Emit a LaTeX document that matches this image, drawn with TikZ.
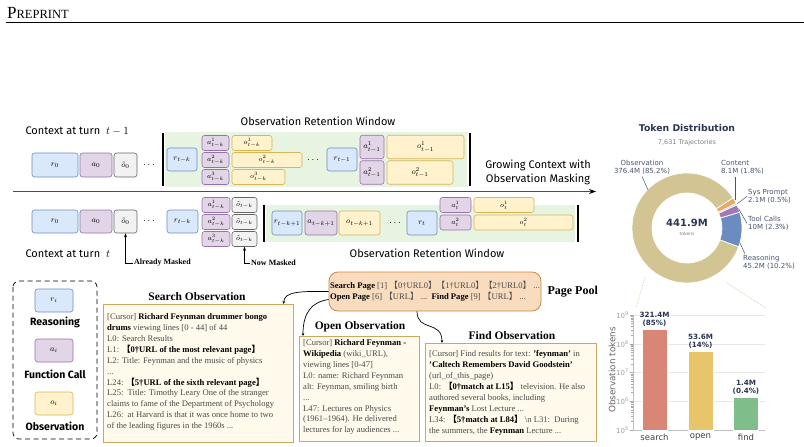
\documentclass[tikz,border=0pt]{standalone}
\usepackage{fontspec}
\setmainfont{Liberation Serif}
\newfontfamily\handfont{Fira Sans}
\newfontfamily\plotfont{DejaVu Sans}
\newfontfamily\cjkfont{Noto Sans CJK SC}
\usetikzlibrary{arrows.meta}

\definecolor{rfill}{HTML}{DAE8FC}\definecolor{rline}{HTML}{6C8EBF}
\definecolor{afill}{HTML}{E1D5E7}\definecolor{aline}{HTML}{9673A6}
\definecolor{ofill}{HTML}{FFF2CC}\definecolor{oline}{HTML}{D6B656}
\definecolor{mfill}{HTML}{F2F2F2}\definecolor{mline}{HTML}{666666}
\definecolor{winfill}{HTML}{E7F4E1}
\definecolor{obsfill}{HTML}{FFFAEC}\definecolor{obsline}{HTML}{C9A962}
\definecolor{poolfill}{HTML}{F9DBBE}\definecolor{poolline}{HTML}{C88B44}
\definecolor{txtgray}{HTML}{4A4A4A}
\definecolor{navy}{HTML}{2B3452}
\definecolor{slate}{HTML}{4A5470}
\definecolor{obstan}{HTML}{D3C493}\definecolor{reasblue}{HTML}{6A8CC0}
\definecolor{toolpurple}{HTML}{A07AB8}\definecolor{contorange}{HTML}{E9A866}
\definecolor{sysgray}{HTML}{C5CAD6}
\definecolor{barsearch}{HTML}{D98676}\definecolor{baropen}{HTML}{E8C56A}
\definecolor{barfind}{HTML}{7FBE8A}
\definecolor{gridgray}{HTML}{E8E8E8}\definecolor{tickgray}{HTML}{A0A0A0}
\definecolor{dottan}{HTML}{D8C8A0}

\newcommand{\lbr}{{\cjkfont 【}}
\newcommand{\rbr}{{\cjkfont 】}}
\newcommand{\bk}[1]{{\color{black}\bfseries #1}}

\tikzset{
  cell/.style={draw, rounded corners=2.5pt, line width=0.6pt, inner sep=0pt,
    font=\fontsize{8}{8}\selectfont},
  rcell/.style={cell, fill=rfill, draw=rline},
  acell/.style={cell, fill=afill, draw=aline},
  ocell/.style={cell, fill=ofill, draw=oline},
  mcell/.style={cell, fill=mfill, draw=mline},
  small/.style={font=\fontsize{7.5}{7.5}\selectfont},
  hand/.style={font=\handfont\fontsize{11}{13.5}\selectfont},
  legendlbl/.style={font=\handfont\bfseries\fontsize{10.5}{11}\selectfont},
  masklbl/.style={font=\bfseries\fontsize{8}{8}\selectfont, anchor=west, inner sep=1pt},
  obsbox/.style={draw=obsline, fill=obsfill, line width=0.7pt, anchor=north west, inner sep=0pt},
  obstitle/.style={font=\bfseries\fontsize{11.5}{12}\selectfont},
  bodytext/.style={font=\fontsize{8.6}{10.9}\selectfont, text=txtgray, align=left,
    anchor=north west, inner sep=0pt},
  link/.style={line width=0.7pt, -{Stealth[length=3pt,width=2.6pt]}},
  piefont/.style={font=\plotfont\fontsize{7}{8.2}\selectfont, text=slate, inner sep=0pt},
  leader/.style={draw=slate, line width=0.5pt},
  bar/.style={draw=white, line width=0.5pt, inner sep=0pt, anchor=south, minimum width=25pt},
  barlbl/.style={font=\plotfont\bfseries\fontsize{7.2}{8}\selectfont, text=navy, align=center,
    anchor=south, inner sep=0pt},
  ticklbl/.style={font=\plotfont\fontsize{7}{7}\selectfont, text=tickgray, anchor=east, inner sep=0pt},
  catlbl/.style={font=\plotfont\fontsize{8.5}{9}\selectfont, text=black!75, inner sep=0pt}
}

\begin{document}
\begin{tikzpicture}[x=1pt,y=-1pt]
\useasboundingbox (0,0) rectangle (804,447);

% header
\node[anchor=base west, inner sep=0pt] (hdr) at (7,18) {\fontsize{17}{17}\selectfont P\fontsize{12.5}{12.5}\selectfont REPRINT};
\draw[line width=0.9pt] (6,22.5) -- (804,22.5);

% retention windows
\fill[winfill] (165,132) rectangle (467,187);
\fill[winfill] (266,205) rectangle (575,242);

% context at turn t-1
\node[hand, anchor=west] (ctxa) at (22,131) {Context at turn~ $t-1$};
\node[hand] (wina) at (318,121) {Observation Retention Window};
\node[rcell, minimum width=46pt, minimum height=24pt] (r0a) at (55,165) {$r_0$};
\node[acell, minimum width=32pt, minimum height=24pt] (a0a) at (96,165) {$a_0$};
\node[mcell, minimum width=23pt, minimum height=24pt] (m0a) at (125.5,165) {$\tilde{o}_0$};
\node (dotsa1) at (149,165) {$\cdots$};
\draw[line width=1.2pt] (163,133) -- (163,186);
\node[rcell, minimum width=30pt, minimum height=23pt] (rka) at (182,159.5) {$r_{t-k}$};
\node[acell, small, minimum width=27pt, minimum height=15pt] (a1ka) at (215.5,143) {$a^1_{t-k}$};
\node[acell, small, minimum width=27pt, minimum height=15pt] (a2ka) at (215.5,160) {$a^2_{t-k}$};
\node[acell, small, minimum width=27pt, minimum height=15pt] (a3ka) at (215.5,177) {$a^3_{t-k}$};
\node[ocell, small, minimum width=40pt, minimum height=15pt] (o1ka) at (252,143) {$o^1_{t-k}$};
\node[ocell, small, minimum width=70pt, minimum height=15pt] (o2ka) at (267,160) {$o^2_{t-k}$};
\node[ocell, small, minimum width=53pt, minimum height=15pt] (o3ka) at (258.5,177) {$o^3_{t-k}$};
\node (dotsa2) at (313,160) {$\cdots$};
\node[rcell, minimum width=30pt, minimum height=23pt] (rt1a) at (342,159.5) {$r_{t-1}$};
\node[acell, minimum width=24pt, minimum height=23.5pt] (a1t1a) at (372,147) {$a^1_{t-1}$};
\node[acell, minimum width=24pt, minimum height=23.5pt] (a2t1a) at (372,172.5) {$a^2_{t-1}$};
\node[ocell, minimum width=77pt, minimum height=23.5pt] (o1t1a) at (425.5,147) {$o^1_{t-1}$};
\node[ocell, minimum width=66pt, minimum height=23.5pt] (o2t1a) at (420,172.5) {$o^2_{t-1}$};
\draw[line width=1.2pt] (470,133) -- (470,186);

% time axis
\coordinate (tl0) at (13,191.5);
\coordinate (tl1) at (596,191.5);
\draw[line width=1pt, black!70, -{Stealth[length=7pt,width=5pt,black]}] (tl0) -- (tl1);
\node[hand, align=center] (grow) at (538,172.5) {Growing Context with\\Observation Masking};

% context at turn t
\node[rcell, minimum width=46pt, minimum height=23pt] (r0b) at (55,221.5) {$r_0$};
\node[acell, minimum width=32pt, minimum height=23pt] (a0b) at (96,221.5) {$a_0$};
\node[mcell, minimum width=23pt, minimum height=23pt] (m0b) at (125.5,221.5) {$\tilde{o}_0$};
\node (dotsb1) at (149,221.5) {$\cdots$};
\node[rcell, minimum width=31pt, minimum height=23pt] (rkb) at (182.5,221.5) {$r_{t-k}$};
\node[acell, small, minimum width=28pt, minimum height=15pt] (a1kb) at (216,205) {$a^1_{t-k}$};
\node[acell, small, minimum width=28pt, minimum height=15pt] (a2kb) at (216,222) {$a^2_{t-k}$};
\node[acell, small, minimum width=28pt, minimum height=15pt] (a3kb) at (216,239) {$a^3_{t-k}$};
\node[mcell, small, minimum width=25pt, minimum height=15pt] (m1kb) at (244.5,205) {$\tilde{o}_{t-k}$};
\node[mcell, small, minimum width=25pt, minimum height=15pt] (m2kb) at (244.5,222) {$\tilde{o}_{t-k}$};
\node[mcell, small, minimum width=25pt, minimum height=15pt] (m3kb) at (244.5,239) {$\tilde{o}_{t-k}$};
\draw[line width=1.2pt] (264,205) -- (264,242);
\node[rcell, minimum width=30pt, minimum height=24pt] (rk1b) at (287,223) {$r_{t-k+1}$};
\node[acell, minimum width=32pt, minimum height=24pt] (ak1b) at (321,223) {$a_{t-k+1}$};
\node[ocell, minimum width=41pt, minimum height=24pt] (ok1b) at (359.5,223) {$o_{t-k+1}$};
\node (dotsb2) at (395,223) {$\cdots$};
\node[rcell, minimum width=30pt, minimum height=24pt] (rtb) at (422,223) {$r_t$};
\node[acell, small, minimum width=31pt, minimum height=15pt] (a1tb) at (455.5,205) {$a^1_t$};
\node[acell, small, minimum width=31pt, minimum height=15pt] (a2tb) at (455.5,222.5) {$a^2_t$};
\node[ocell, small, minimum width=60pt, minimum height=15pt] (o1tb) at (504,205) {$o^1_t$};
\node[ocell, small, minimum width=99pt, minimum height=15pt] (o2tb) at (523.5,222.5) {$o^2_t$};
\draw[line width=1.2pt] (578,205) -- (578,242);
\node[hand, anchor=west] (ctxb) at (22,254) {Context at turn~ $t$};
\node[hand] (winb) at (427,253) {Observation Retention Window};

% masked markers
\node[masklbl] (amask) at (133,263) {Already Masked};
\node[masklbl] (nmask) at (250,263) {Now Masked};
\draw[line width=0.6pt, -{Stealth[length=4pt,width=3pt]}] (amask.west) -| (m0b.south);
\draw[line width=0.6pt, -{Stealth[length=4pt,width=3pt]}] (nmask.west) -| (m3kb.south);

% legend
\draw[line width=0.7pt, rounded corners=6pt, dash pattern=on 5pt off 3.5pt] (13,281) rectangle (97,439);
\node[rcell, minimum width=38pt, minimum height=23pt] (rleg) at (54,300.5) {$r_i$};
\node[legendlbl] (rlegl) at (55,322) {Reasoning};
\node[acell, minimum width=38pt, minimum height=23pt] (aleg) at (54,350.5) {$a_i$};
\node[legendlbl] (alegl) at (55,374) {Function Call};
\node[ocell, minimum width=38pt, minimum height=23pt] (oleg) at (54,403.5) {$o_i$};
\node[legendlbl] (olegl) at (55,426) {Observation};

% page pool
\node[draw=poolline, fill=poolfill, line width=0.8pt, rounded corners=9pt,
  minimum width=212pt, minimum height=39pt, align=left, inner sep=0pt,
  font=\fontsize{8.6}{11}\selectfont, text=txtgray] (pool) at (435,291.5)
  {\bk{Search Page} [1] \lbr 0†URL0\rbr\lbr 1†URL0\rbr\lbr 2†URL0\rbr\ ...\\
   \bk{Open Page} [6] \lbr URL\rbr\ ...\ \ \bk{Find Page} [9] \lbr URL\rbr\ ...};
\node[anchor=west, font=\bfseries\fontsize{12}{12}\selectfont] (poollbl) at (544,292) {Page Pool};

% search observation
\node[obstitle] (stitle) at (197,297) {Search Observation};
\node[obsbox, minimum width=190pt, minimum height=138pt] (sbox) at (103,304) {};
\node[bodytext] (stext) at (107,313.5) {[Cursor] \bk{Richard Feynman drummer bongo}\\
\bk{drums} viewing lines [0 - 44] of 44\\
L0: Search Results\\
L1: \bk{\lbr 0†URL of the most relevant page\rbr}\\
L2: Title: Feynman and the music of physics\\
...\\
L24: \bk{\lbr 5†URL of the sixth relevant page\rbr}\\
L25:\ \ Title: Timothy Leary One of the stranger\\
claims to fame of the Department of Psychology\\
L26:\ \ at Harvard is that it was once home to two\\
of the leading figures in the 1960s ...};

% open observation
\node[obstitle] (otitle) at (360,327) {Open Observation};
\node[obsbox, minimum width=120pt, minimum height=105pt] (obox) at (299,336) {};
\node[bodytext] (otext) at (303,339.5) {[Cursor] \bk{Richard Feynman -}\\
\bk{Wikipedia} (wiki\_URL),\\
viewing lines [0-47]\\
L0: name: Richard Feynman\\
alt: Feynman, smiling birth\\
...\\
L47: Lectures on Physics\\
(1961--1964). He delivered\\
lectures for lay audiences ...};

% find observation
\node[obstitle] (ftitle) at (512,336) {Find Observation};
\node[obsbox, minimum width=171pt, minimum height=98pt] (fbox) at (425,343) {};
\node[bodytext] (ftext) at (429,350.5) {[Cursor] Find results for text: \bk{'feynman'} in\\
\bk{'Caltech Remembers David Goodstein'}\\
(url\_of\_this\_page)\\
L0: \bk{\lbr 0†match at L15\rbr} television. He also\\
authored several books, including\\
\bk{Feynman's} Lost Lecture ...\\
L34: \bk{\lbr 5†match at L84\rbr} \textbackslash n L31:\ \ During\\
the summers, the \bk{Feynman} Lecture ...};

% pool links
\draw[link] (pool.west) .. controls (298,291) and (284,292) .. ([xshift=-10pt]sbox.north east);
\draw[link] ([yshift=-8pt]pool.west) .. controls (312,302) and (303,312) .. ([xshift=4pt]obox.north west);
\draw[link] ([xshift=-18pt]pool.south) .. controls (417,332) and (442,320) .. ([xshift=17pt]fbox.north west);

% token distribution
\node[font=\plotfont\bfseries\fontsize{9.3}{9.3}\selectfont, text=navy] (ttitle) at (687,128) {Token Distribution};
\node[font=\plotfont\fontsize{6.5}{6.5}\selectfont, text=black!50] (tsub) at (687,143) {7,631 Trajectories};
\begin{scope}[shift={(687,228)}, yscale=-1]
\foreach \a/\b/\c in {-20/16.72/reasblue, 16.72/25/toolpurple, 25/26.8/sysgray, 26.8/33.28/contorange, 33.28/340/obstan}
  \filldraw[fill=\c, draw=white, line width=0.7pt] (\a:55) arc (\a:\b:55) -- (\b:35) arc (\b:\a:35) -- cycle;
\end{scope}
\node[font=\plotfont\bfseries\fontsize{10}{10}\selectfont, text=navy] (dtot) at (687,223) {441.9M};
\node[font=\plotfont\fontsize{4.5}{4.5}\selectfont, text=black!50] (dunit) at (687,234) {tokens};

\node[piefont, align=center] (lobs) at (642,167) {Observation\\376.4M (85.2\%)};
\node[piefont, align=left, anchor=north west] (lcont) at (721,160) {Content\\8.1M (1.8\%)};
\node[piefont, align=left, anchor=north west] (lsys) at (748,189) {Sys Prompt\\2.1M (0.5\%)};
\node[piefont, align=left, anchor=north west] (ltool) at (748,216) {Tool Calls\\10M (2.3\%)};
\node[piefont, align=left, anchor=north west] (lreas) at (743,255) {Reasoning\\45.2M (10.2\%)};
\coordinate (pobs) at (648,190);
\coordinate (pcont) at (735,200);
\coordinate (psys) at (737,204);
\coordinate (ptool) at (738.5,208.5);
\coordinate (preas) at (740,243);
\draw[leader] (pobs) -- ([yshift=-2pt]lobs.south);
\draw[leader] (pcont) -- ([yshift=-2pt]pcont |- lcont.south);
\draw[leader] (psys) -- ([xshift=-1pt]lsys.west);
\draw[leader] (ptool) -- ([xshift=-1pt]ltool.west);
\draw[leader] (preas) -- ([shift={(2pt,1pt)}]lreas.north west);

% zoom guides
\coordinate (zl0) at (645,277);
\coordinate (zl1) at (636,308);
\coordinate (zr0) at (727,283);
\coordinate (zr1) at (766,308);
\draw[dottan, densely dotted, line width=0.7pt] (zl0) -- (zl1);
\draw[dottan, densely dotted, line width=0.7pt] (zr0) -- (zr1);

% bar chart
\foreach \yy in {315,343.75,372.5,401.25}
  \draw[gridgray, line width=0.5pt] (633,\yy) -- (765,\yy);
\draw[black!25, line width=0.6pt] (633,315) -- (633,430) -- (765,430);
\foreach \d in {0,1,2,3}
  \foreach \m in {2,...,9}
    \draw[black!35, line width=0.4pt] (631,{430-(\d+log10(\m))*28.75}) -- (633,{430-(\d+log10(\m))*28.75});
\foreach \yy/\e in {315/9,343.75/8,372.5/7,401.25/6,430/5} {
  \draw[black!35, line width=0.5pt] (630,\yy) -- (633,\yy);
  \node[ticklbl] at (629,\yy) {10\textsuperscript{\e}};
}
\node[font=\plotfont\fontsize{8.8}{9}\selectfont, text=black!60, rotate=90] (ylbl) at (612,370) {Observation tokens};

\node[bar, fill=barsearch, minimum height=100.5pt] (bsearch) at (654.5,430) {};
\node[bar, fill=baropen, minimum height=78.5pt] (bopen) at (700.5,430) {};
\node[bar, fill=barfind, minimum height=33pt] (bfind) at (746,430) {};
\node[barlbl] (lsearch) at ([yshift=2pt]bsearch.north) {321.4M\\(85\%)};
\node[barlbl] (lopen) at ([yshift=2pt]bopen.north) {53.6M\\(14\%)};
\node[barlbl] (lfind) at ([yshift=2pt]bfind.north) {1.4M\\(0.4\%)};
\node[catlbl] (csearch) at (654.5,437) {search};
\node[catlbl] (copen) at (700.5,437) {open};
\node[catlbl] (cfind) at (746,437) {find};
\end{tikzpicture}
\end{document}
